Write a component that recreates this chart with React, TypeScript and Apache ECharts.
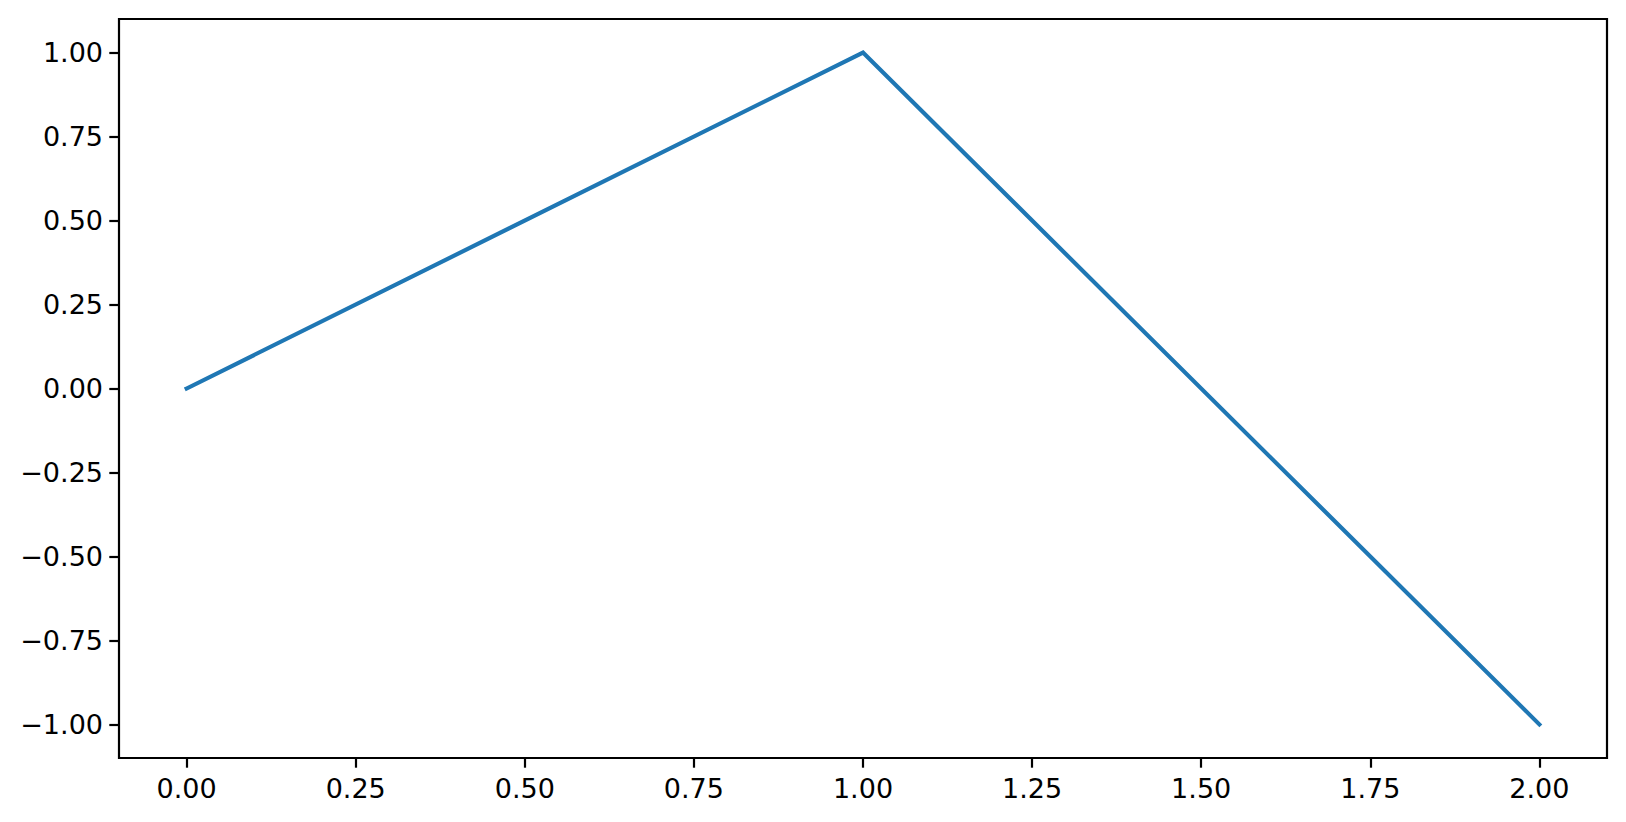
import React, { useEffect, useRef } from "react";
import * as echarts from "echarts";

const xValues = [0, 1, 2];
const yValues = [0, 1, -1];
const xTicks = [0, 0.25, 0.5, 0.75, 1.0, 1.25, 1.5, 1.75, 2.0];
const yTicks = [-1.0, -0.75, -0.5, -0.25, 0, 0.25, 0.5, 0.75, 1.0];

const fmt = (v: number) => v.toFixed(2).replace("-", "\u2212");

export default function App() {
  const ref = useRef<HTMLDivElement>(null);
  useEffect(() => {
    if (!ref.current) return;
    const chart = echarts.init(ref.current, null, { renderer: "svg" });
    const font = "DejaVu Sans";
    const tickStyle = { show: true, inside: false, length: 9.7, lineStyle: { color: "#000", width: 2.2 } };
    chart.setOption({
      animation: false,
      backgroundColor: "#fff",
      grid: {
        left: 119,
        right: 19,
        top: 19,
        bottom: 64,
        show: true,
        borderColor: "#000",
        borderWidth: 2.2,
        backgroundColor: "transparent",
      },
      xAxis: {
        type: "value",
        min: -0.1,
        max: 2.1,
        axisLine: { show: false, onZero: false },
        splitLine: { show: false },
        axisTick: { ...tickStyle, customValues: xTicks },
        axisLabel: {
          customValues: xTicks,
          formatter: fmt,
          fontFamily: font,
          fontSize: 27,
          color: "#000",
          margin: 17,
        },
      },
      yAxis: {
        type: "value",
        min: -1.1,
        max: 1.1,
        axisLine: { show: false, onZero: false },
        splitLine: { show: false },
        axisTick: { ...tickStyle, customValues: yTicks },
        axisLabel: {
          customValues: yTicks,
          formatter: fmt,
          fontFamily: font,
          fontSize: 27,
          color: "#000",
          margin: 16,
        },
      },
      series: [
        {
          type: "line",
          data: xValues.map((x, i) => [x, yValues[i]]),
          showSymbol: false,
          lineStyle: { color: "#1f77b4", width: 4.17, cap: "square", join: "miter" },
          itemStyle: { color: "#1f77b4" },
        },
      ],
    });
    return () => chart.dispose();
  }, []);
  return (
    <div
      ref={ref}
      style={{ position: "fixed", left: 0, top: 0, width: 1626, height: 822 }}
    />
  );
}
